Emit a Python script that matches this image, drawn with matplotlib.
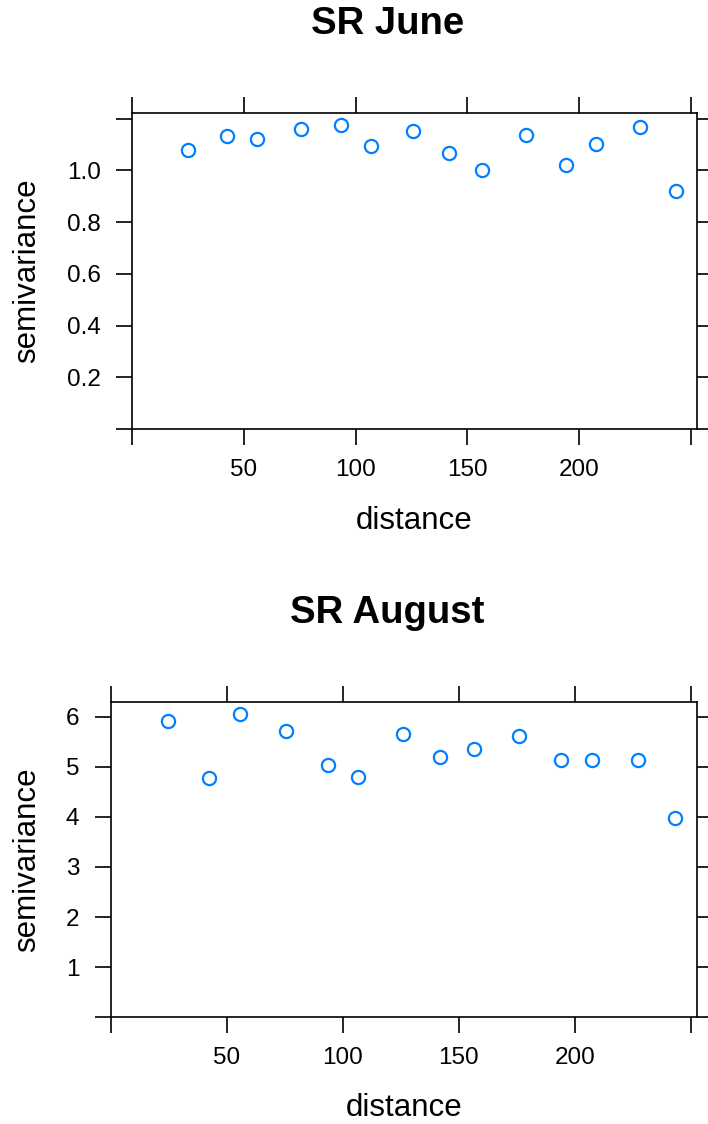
import matplotlib
matplotlib.use('Agg')
import matplotlib.pyplot as plt

plt.rcParams['font.family'] = ['Liberation Sans', 'DejaVu Sans']

# Sample variogram values
distance = [24.9, 42.5, 55.8, 75.7, 93.5, 106.8, 125.9, 141.8, 156.4, 176.1, 194.0, 207.5, 227.3, 243.1]
semi_june = [1.078, 1.133, 1.123, 1.159, 1.174, 1.093, 1.154, 1.066, 1.002, 1.138, 1.020, 1.103, 1.167, 0.922]
semi_august = [5.92, 4.78, 6.05, 5.71, 5.03, 4.80, 5.65, 5.19, 5.35, 5.61, 5.13, 5.14, 5.14, 3.97]

x_ticks = [0, 50, 100, 150, 200, 250]
x_labels = ['', '50', '100', '150', '200', '']
june_yticks = [0, 0.2, 0.4, 0.6, 0.8, 1.0, 1.2]
june_ylabels = ['', '0.2', '0.4', '0.6', '0.8', '1.0', '']
aug_yticks = [0, 1, 2, 3, 4, 5, 6]
aug_ylabels = ['', '1', '2', '3', '4', '5', '6']

fig = plt.figure(figsize=(7.08, 11.24), dpi=100)


def panel(rect, y, ylim, yticks, ylabels, title, title_y, xlab_y, ylab_y):
    ax = fig.add_axes(rect)
    ax.plot(distance, y, 'o', mfc='none', mec='#0080ff', ms=9.5, mew=1.6, clip_on=False)
    ax.set_xlim(0, 252.7)
    ax.set_ylim(*ylim)
    ax.set_xticks(x_ticks)
    ax.set_xticklabels(x_labels)
    ax.set_yticks(yticks)
    ax.set_yticklabels(ylabels)
    ax.tick_params(direction='out', length=11.5, width=1.2, labelsize=17.5,
                   top=True, right=True, pad=10)
    ax.tick_params(axis='y', pad=11)
    for s in ax.spines.values():
        s.set_linewidth(1.2)
    fig.text(0.547, title_y, title, fontsize=27.5, fontweight='bold', ha='center', va='center')
    cx = rect[0] + rect[2] / 2
    fig.text(cx, xlab_y, 'distance', fontsize=22.5, ha='center', va='center')
    fig.text(0.038, ylab_y, 'semivariance', fontsize=22.5, rotation=90, ha='center', va='center')
    return ax


panel([132 / 708, 1 - 429 / 1124, (697 - 132) / 708, (429 - 113.3) / 1124],
      semi_june, (0, 1.221), june_yticks, june_ylabels,
      'SR June', 1 - 24 / 1124, 1 - 521 / 1124, 1 - 271 / 1124)

panel([110.7 / 708, 1 - 1017.3 / 1124, (697 - 110.7) / 708, (1017.3 - 702.3) / 1124],
      semi_august, (0, 6.287), aug_yticks, aug_ylabels,
      'SR August', 1 - 613 / 1124, 1 - 1108 / 1124, 1 - 860 / 1124)

plt.savefig('out.png', dpi=100)
